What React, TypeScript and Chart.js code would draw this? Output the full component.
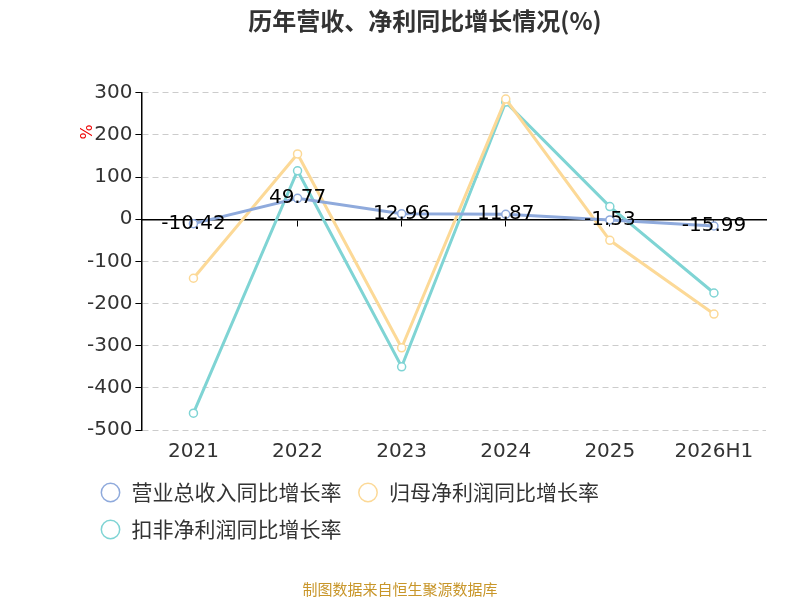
import React, { useEffect, useRef } from "react";
import { Chart, registerables } from "chart.js";
Chart.register(...registerables);

const categories = ["2021", "2022", "2023", "2024", "2025", "2026H1"];
const revenueGrowth = [-10.42, 49.77, 12.96, 11.87, -1.53, -15.99];
const netProfitGrowth = [-140, 155, -305, 285, -50, -225];
const deductedProfitGrowth = [-460, 115, -350, 278, 30, -175];
const seriesNames = ["营业总收入同比增长率", "归母净利润同比增长率", "扣非净利润同比增长率"];
const colors = ["#8faadc", "#fcd997", "#7fd4d4"];

const labelPlugin = {
  id: "labels",
  afterDatasetsDraw(chart: any) {
    const ctx = chart.ctx;
    const meta = chart.getDatasetMeta(0);
    ctx.save();
    ctx.font = "20px 'DejaVu Sans', sans-serif";
    ctx.fillStyle = "#000";
    ctx.textAlign = "center";
    ctx.textBaseline = "middle";
    meta.data.forEach((p: any, i: number) => {
      ctx.fillText(revenueGrowth[i].toFixed(2), p.x, p.y);
    });
    ctx.restore();
    ctx.save();
    ctx.fillStyle = "#e00";
    ctx.font = "16px 'DejaVu Sans', sans-serif";
    ctx.translate(88, 132);
    ctx.rotate(-Math.PI / 2);
    ctx.textAlign = "center";
    ctx.textBaseline = "middle";
    ctx.fillText("%", 0, 0);
    ctx.restore();
  },
};

export default function App() {
  const ref = useRef<HTMLCanvasElement>(null);
  useEffect(() => {
    const mk = (i: number, data: number[]) => ({
      label: seriesNames[i],
      data,
      borderColor: colors[i],
      backgroundColor: "#fff",
      pointBorderColor: colors[i],
      pointBackgroundColor: "#fff",
      borderWidth: 3,
      pointRadius: 4,
      pointBorderWidth: 1.5,
      tension: 0,
      xAxisID: "x",
    });
    const chart = new Chart(ref.current!, {
      type: "line",
      data: {
        labels: categories,
        datasets: [mk(0, revenueGrowth), mk(1, netProfitGrowth), mk(2, deductedProfitGrowth)],
      },
      options: {
        animation: false,
        responsive: false,
        layout: { padding: { left: 84, right: 34, top: 0, bottom: 50 } },
        plugins: {
          title: {
            display: true,
            text: "历年营收、净利同比增长情况(%)",
            font: { size: 24, weight: "bold", family: "'Noto Sans CJK SC', sans-serif" },
            color: "#333",
            padding: { top: 6, bottom: 58 },
          },
          legend: {
            position: "bottom",
            align: "start",
            labels: {
              usePointStyle: true,
              pointStyle: "circle",
              boxWidth: 26,
              boxHeight: 13,
              padding: 16,
              color: "#333",
              font: { size: 21, family: "'Noto Sans CJK SC', sans-serif" },
            },
          },
          tooltip: { enabled: false },
        },
        scales: {
          x: {
            type: "category",
            position: "bottom",
            offset: true,
            grid: { display: false },
            border: { display: false },
            ticks: { color: "#333", font: { size: 20, family: "'DejaVu Sans', sans-serif" }, padding: 2 },
          },
          x2: {
            type: "category",
            labels: categories,
            position: { y: 0 } as any,
            offset: true,
            grid: { drawOnChartArea: false, tickLength: 6, color: "#000", offset: false },
            border: { display: true, color: "#000", width: 1.5 },
            ticks: { display: false },
          },
          y: {
            min: -500,
            max: 300,
            ticks: { stepSize: 100, color: "#333", font: { size: 20, family: "'DejaVu Sans', sans-serif" } },
            grid: { color: "#ccc", tickLength: 6, tickColor: "#000" },
            border: { display: true, color: "#000", width: 1.5, dash: [6, 4] },
          },
        },
      },
      plugins: [labelPlugin],
    });
    return () => chart.destroy();
  }, []);
  return (
    <div style={{ position: "fixed", left: 0, top: 0, width: 800, height: 600, background: "#fff" }}>
      <canvas ref={ref} width={800} height={600} />
      <div style={{ position: "absolute", top: 578, width: 800, textAlign: "center", color: "#c8962a", fontSize: 15, fontFamily: "'Noto Sans CJK SC', sans-serif" }}>
        制图数据来自恒生聚源数据库
      </div>
    </div>
  );
}
